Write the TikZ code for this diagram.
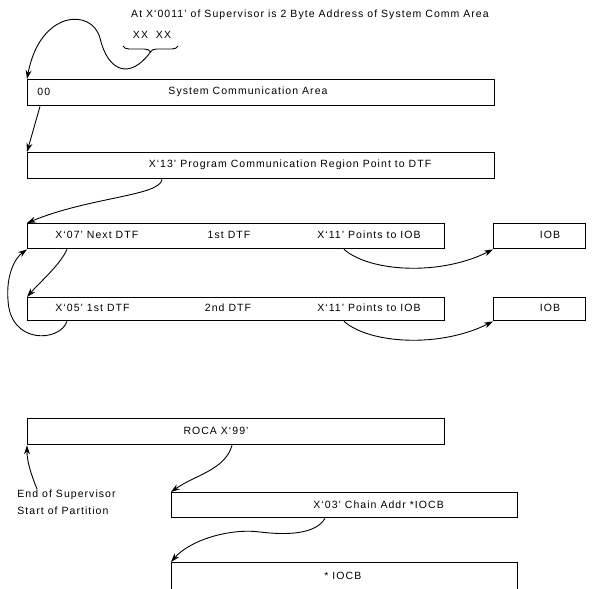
\documentclass[tikz,border=0pt]{standalone}
\usepackage{fontspec}
\setmainfont[LetterSpace=10]{Liberation Sans}
\usetikzlibrary{arrows.meta,decorations.pathreplacing}

\begin{document}
\begin{tikzpicture}[x=1pt, y=-1pt, >={Stealth[length=9pt,width=6pt]}, line width=0.9pt,
    field/.style={draw, line width=1.4pt, anchor=north west, inner sep=0pt},
    lbl/.style={font=\fontsize{10.5}{17}\selectfont, inner sep=0pt}]
\useasboundingbox (0,0) rectangle (596,588);

% Supervisor pointer
\node[lbl] (Head) at (310,15) {At X‘0011’ of Supervisor is 2 Byte Address of System Comm Area};
\node[lbl] (Bytes) at (152,35) {XX\ \ XX};
\draw[decorate, decoration={brace, mirror, amplitude=6pt}] (123,46) -- (178,46);
\coordinate (tip) at (150.5,52);

% Storage areas
\node[field, minimum width=467pt, minimum height=26pt] (SCA) at (27,79) {};
\node[lbl, anchor=west] (SCAid) at (37,92) {00};
\node[lbl] (SCAname) at (248,92) {System Communication Area};

\node[field, minimum width=467pt, minimum height=26pt] (PCR) at (27,152) {};
\node[lbl] (PCRname) at (290,165) {X‘13’ Program Communication Region Point to DTF};

\node[field, minimum width=417pt, minimum height=25pt] (DTF1) at (27,223) {};
\node[lbl, anchor=west] (DTF1next) at (55,235) {X‘07’ Next DTF};
\node[lbl] (DTF1name) at (229,235) {1st DTF};
\node[lbl, anchor=west] (DTF1iob) at (317,235) {X‘11’ Points to IOB};
\node[field, minimum width=92pt, minimum height=25pt] (IOB1) at (493,223) {};
\node[lbl] (IOB1name) at (550,235) {IOB};

\node[field, minimum width=417pt, minimum height=23pt] (DTF2) at (27,297) {};
\node[lbl, anchor=west] (DTF2next) at (55,308) {X‘05’ 1st DTF};
\node[lbl] (DTF2name) at (228,308) {2nd DTF};
\node[lbl, anchor=west] (DTF2iob) at (317,308) {X‘11’ Points to IOB};
\node[field, minimum width=92pt, minimum height=23pt] (IOB2) at (493,297) {};
\node[lbl] (IOB2name) at (550,308) {IOB};

\node[field, minimum width=417pt, minimum height=26pt] (ROCA) at (27,418) {};
\node[lbl] (ROCAname) at (216,431) {ROCA X‘99’};
\node[lbl, anchor=north west, align=left] (Part) at (17,489) {End of Supervisor\\Start of Partition};

\node[field, minimum width=346pt, minimum height=25pt] (Chain) at (171,492) {};
\node[lbl, anchor=west] (Chainname) at (313,505) {X‘03’ Chain Addr *IOCB};
\node[field, minimum width=346pt, minimum height=40pt] (IOCB) at (171,562) {};
\node[lbl, anchor=west] (IOCBname) at (324,576) {* IOCB};

% Pointer chain
\draw[->] (tip) .. controls (130,80) and (108,72) .. (100,38) .. controls (92,8) and (40,10) .. (SCA.north west);
\draw[->] ([xshift=13pt]SCA.south west) -- (PCR.north west);
\draw[->] ([xshift=135pt]PCR.south west) .. controls (160,196) and (90,197) .. (DTF1.north west);
\draw[->] ([xshift=40pt]DTF1.south west) .. controls (60,265) and (40,282) .. (DTF2.north west);
\draw[->] ([xshift=40pt]DTF2.south west) .. controls (60,342) and (10,345) .. (8,300) .. controls (6,275) and (15,258) .. (DTF1.south west);
\draw[->] ([xshift=317pt]DTF1.south west) .. controls (370,272) and (440,276) .. (IOB1.south west);
\draw[->] ([xshift=317pt]DTF2.south west) .. controls (370,344) and (440,348) .. (IOB2.south west);
\draw[->] ([xshift=205pt]ROCA.south west) .. controls (225,470) and (195,475) .. (Chain.north west);
\draw[->] ([xshift=154pt]Chain.south west) .. controls (315,535) and (285,535) .. (260,532) .. controls (230,528) and (190,540) .. (IOCB.north west);
\draw[->] ([xshift=20pt]Part.north west) .. controls (31,474) and (27,462) .. (ROCA.south west);
\end{tikzpicture}
\end{document}
